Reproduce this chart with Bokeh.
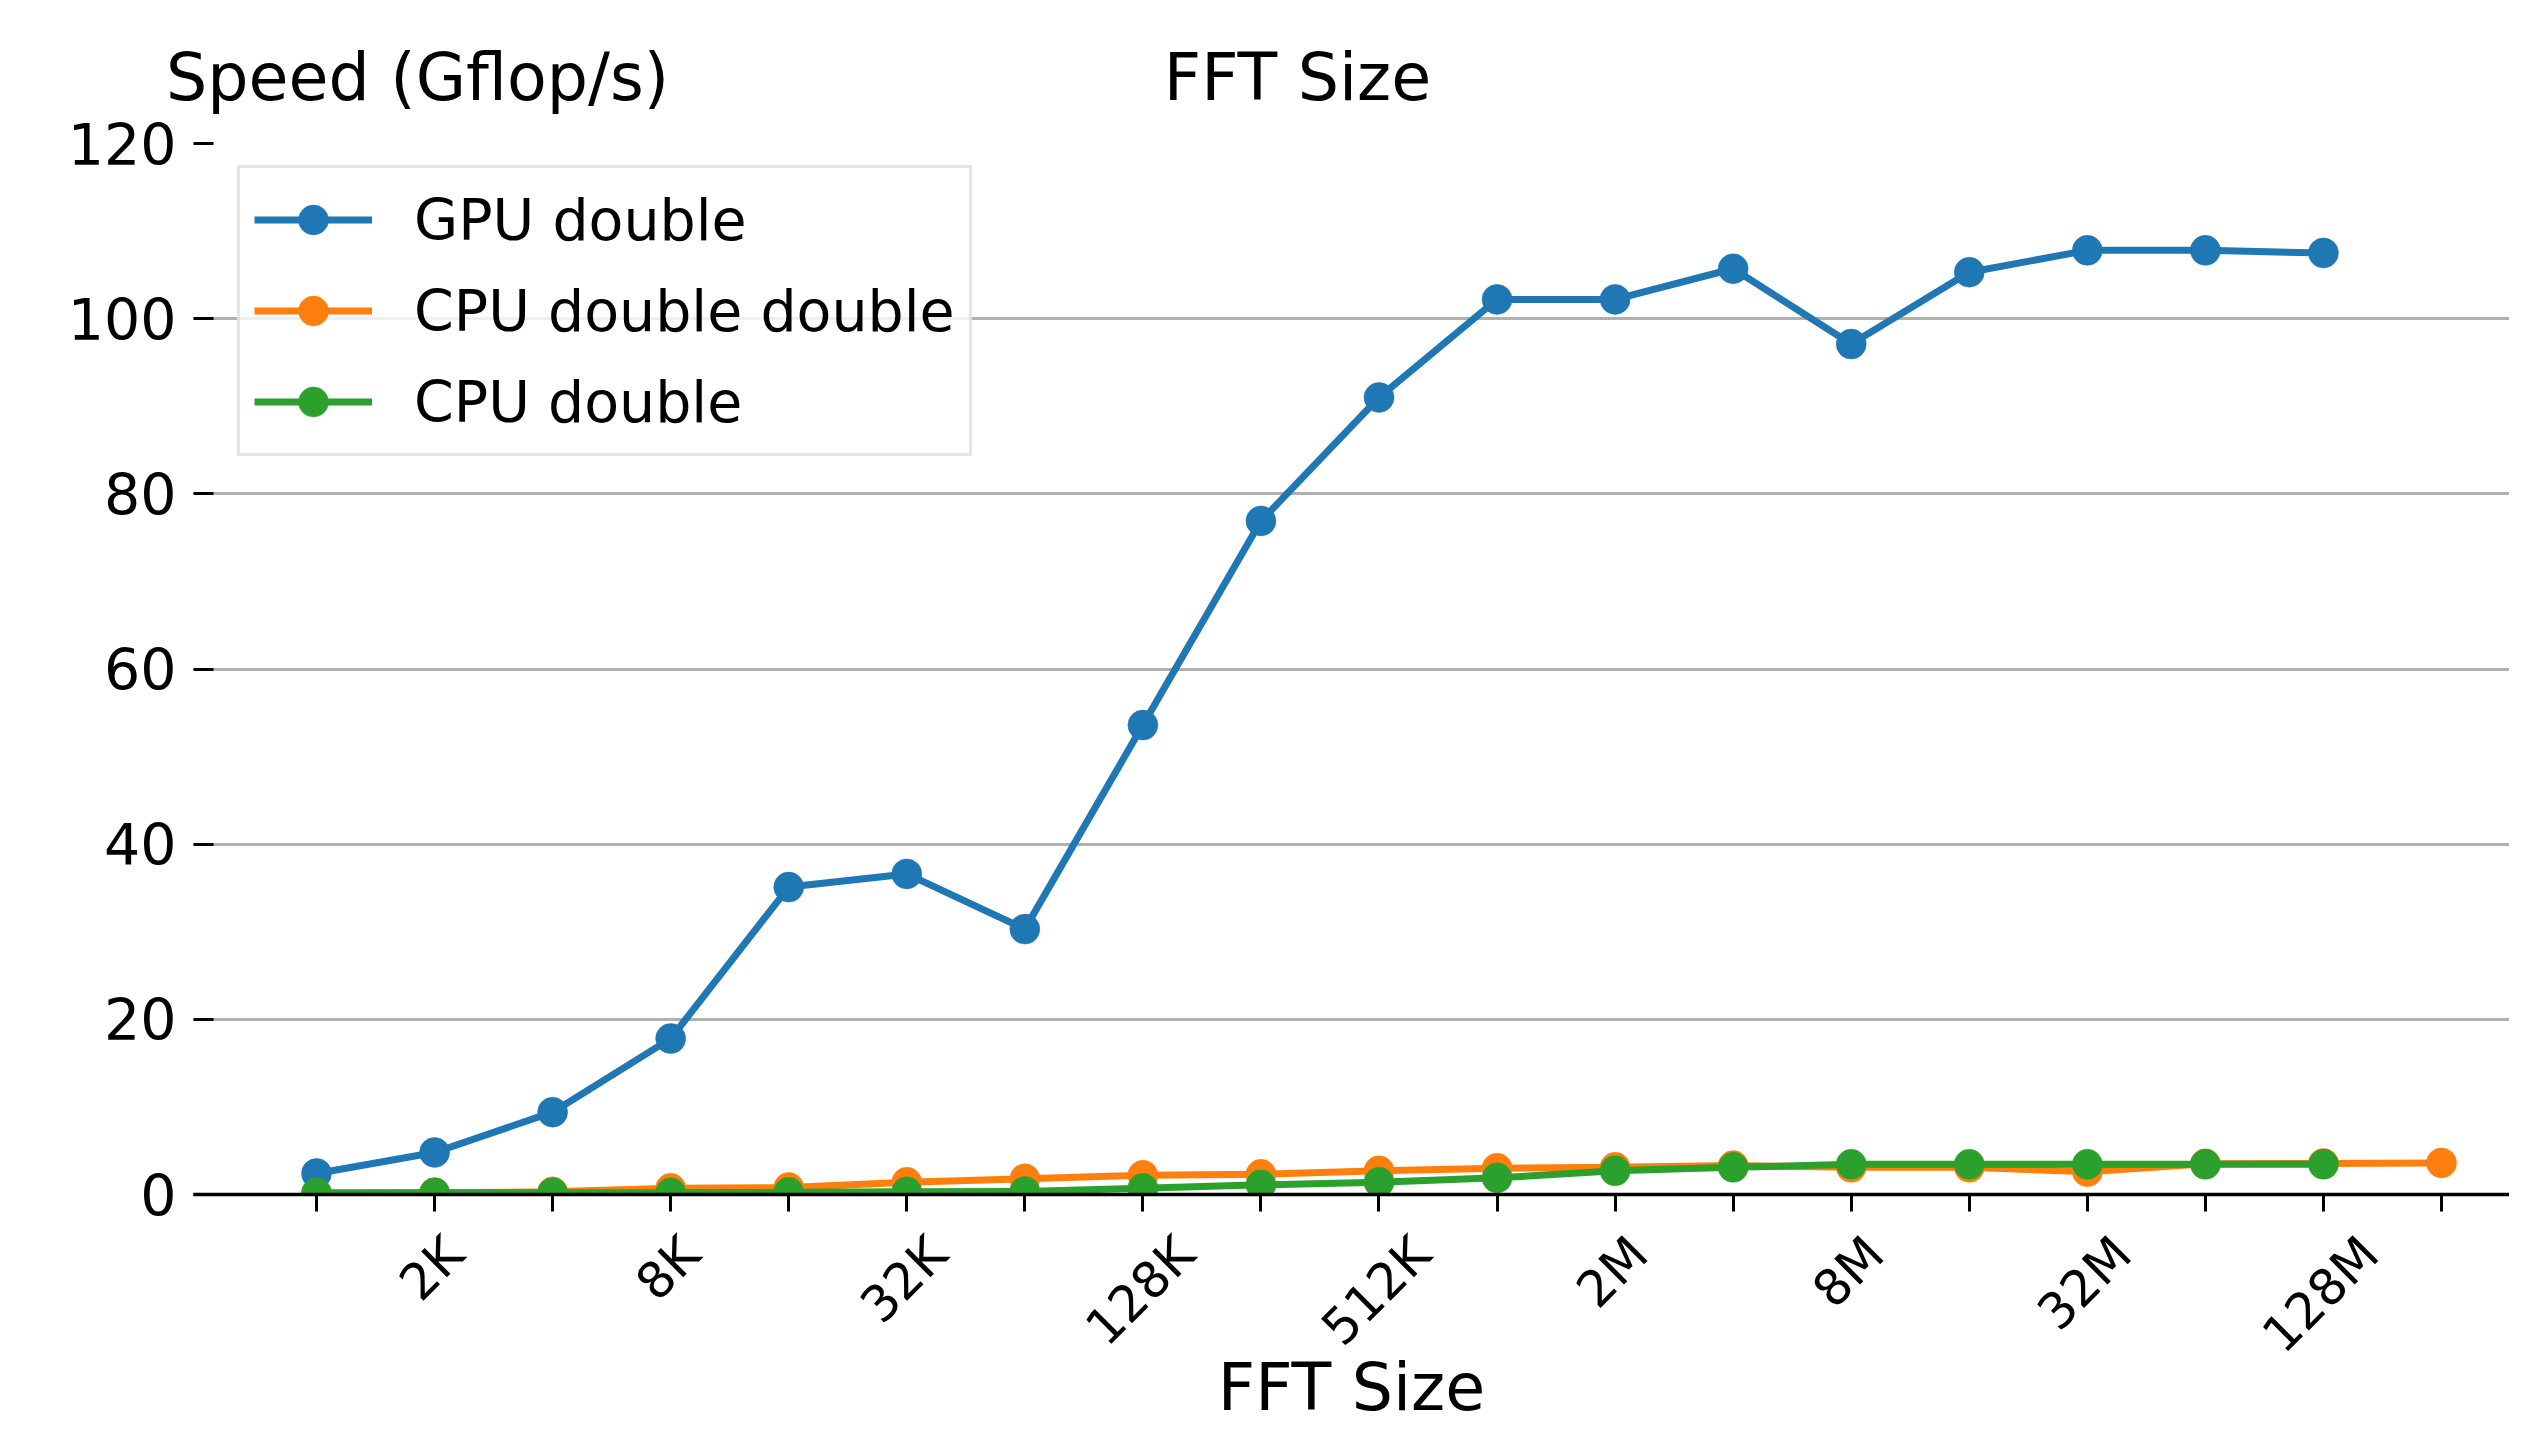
import math
from bokeh.plotting import figure
from bokeh.models import FixedTicker, Range1d, LinearAxis
from bokeh.embed import file_html
from bokeh.resources import INLINE

# ---------------- data ----------------
# FFT sizes as powers of two (10 -> 1K ... 28 -> 256M)
fft_log2 = list(range(10, 29))
tick_labels = ["", "2K", "", "8K", "", "32K", "", "128K", "", "512K",
               "", "2M", "", "8M", "", "32M", "", "128M", ""]

gpu_x = list(range(10, 28))
gpu_double = [2.4, 4.8, 9.4, 17.8, 35.1, 36.6, 30.3, 53.6, 76.9, 91.0,
              102.2, 102.2, 105.7, 97.1, 105.3, 107.8, 107.8, 107.5]

cpu_dd_x = list(range(10, 29))
cpu_double_double = [0.1, 0.2, 0.3, 0.7, 0.8, 1.4, 1.8, 2.2, 2.3, 2.7,
                     3.0, 3.1, 3.3, 3.1, 3.1, 2.6, 3.5, 3.55, 3.6]

cpu_d_x = list(range(10, 28))
cpu_double = [0.2, 0.2, 0.2, 0.2, 0.25, 0.3, 0.35, 0.7, 1.1, 1.4,
              1.9, 2.7, 3.1, 3.45, 3.45, 3.45, 3.45, 3.45]

y_ticks = [0, 20, 40, 60, 80, 100, 120]

series_names = ["GPU double", "CPU double double", "CPU double"]
colors = ["#1f77b4", "#ff7f0e", "#2ca02c"]

y_title = "Speed (Gflop/s)"
x_title = "FFT Size"

FONT = "DejaVu Sans"

# ---------------- layout (canvas pixels) ----------------
W, H = 2509, 1428
frame_left, frame_top, frame_bottom = 193, 143, 1197
frame_right = W
x_px_per_unit = (2441 - 316) / 18.0
x_at_10 = 316.0


def px2x(px):
    return round(10 + (px - x_at_10) / x_px_per_unit, 5)


p = figure(width=W, height=H, output_backend="svg", toolbar_location=None,
           x_range=Range1d(px2x(frame_left), px2x(frame_right)),
           y_range=Range1d(0, 120),
           min_border_left=frame_left, min_border_top=frame_top,
           min_border_bottom=H - frame_bottom, min_border_right=0)
p.outline_line_color = None
p.background_fill_color = "white"
p.border_fill_color = "white"

# grid
p.xgrid.visible = False
p.ygrid.ticker = FixedTicker(ticks=y_ticks)
p.ygrid.grid_line_color = "#b0b0b0"
p.ygrid.grid_line_width = 3

# y axis
p.yaxis.ticker = FixedTicker(ticks=y_ticks)
p.yaxis.axis_line_color = None
p.yaxis.major_tick_in = 20
p.yaxis.major_tick_out = 0
p.yaxis.major_tick_line_width = 3
p.yaxis.major_tick_line_color = "black"
p.yaxis.minor_tick_line_color = None
p.yaxis.major_label_standoff = 17
p.yaxis.major_label_text_font_size = "57px"
p.yaxis.major_label_text_font = FONT
p.yaxis.major_label_text_color = "black"

# x axis: spine + tick marks
p.xaxis.ticker = FixedTicker(ticks=fft_log2)
p.xaxis.major_label_overrides = {t: "" for t in fft_log2}
p.xaxis.major_label_text_font_size = "1px"
p.xaxis.major_label_standoff = 0
p.xaxis.axis_line_width = 3.3
p.xaxis.axis_line_color = "black"
p.xaxis.major_tick_in = 0
p.xaxis.major_tick_out = 17
p.xaxis.major_tick_line_width = 3
p.xaxis.major_tick_line_color = "black"
p.xaxis.minor_tick_line_color = None


def text_axis(ticks, labels, side, standoff, size, orientation="horizontal"):
    ax = LinearAxis(ticker=FixedTicker(ticks=ticks),
                    major_label_overrides=dict(zip(ticks, labels)),
                    axis_line_color=None, major_tick_line_color=None,
                    minor_tick_line_color=None, major_tick_in=0, major_tick_out=0,
                    major_label_standoff=standoff,
                    major_label_orientation=orientation,
                    major_label_text_font=FONT, major_label_text_font_size=size,
                    major_label_text_color="black")
    p.add_layout(ax, side)
    return ax


# rotated x tick labels, centred on their ticks like the reference
CW = {"0": .636, "1": .636, "2": .636, "3": .636, "4": .636, "5": .636,
      "6": .636, "7": .636, "8": .636, "9": .636, "K": .656, "M": .863}
XFS = 50
lab_pos, lab_txt = [], []
for t, lab in zip(fft_log2, tick_labels):
    if not lab:
        continue
    w = (sum(CW[ch] for ch in lab) - 0.15) * XFS
    lab_pos.append(round(t + w * math.sqrt(0.5) / 2 / x_px_per_unit, 5))
    lab_txt.append(lab)
lab_axis = text_axis(lab_pos, lab_txt, "below", 34, f"{XFS}px", math.pi / 4)
lab_axis.axis_label = x_title
lab_axis.axis_label_text_font = FONT
lab_axis.axis_label_text_font_size = "65px"
lab_axis.axis_label_text_font_style = "normal"
lab_axis.axis_label_text_color = "black"
lab_axis.axis_label_standoff = -37
# centre the bottom title where the reference has it
title_cx = px2x(1377)
half = 8.75
lab_axis.bounds = (round(title_cx - half, 5), round(title_cx + half, 5))

# top texts (y title at upper left, and the upper "FFT Size")
text_axis([px2x(417), px2x(1297)], [y_title, x_title], "above", 29, "65px")

# ---------------- series ----------------
for xs, ys, name, c in [(gpu_x, gpu_double, series_names[0], colors[0]),
                        (cpu_dd_x, cpu_double_double, series_names[1], colors[1]),
                        (cpu_d_x, cpu_double, series_names[2], colors[2])]:
    p.line(xs, ys, line_color=c, line_width=7, line_join="round", legend_label=name)
    p.scatter(xs, ys, size=30, fill_color=c, line_color=c, line_width=0.5,
              legend_label=name)

# ---------------- legend ----------------
lg = p.legend[0]
lg.location = (237 - frame_left, frame_bottom - 459)
lg.margin = 0
lg.padding = 14
lg.spacing = 16
lg.glyph_width = 118
lg.glyph_height = 75
lg.label_standoff = 42
lg.label_text_font_size = "57px"
lg.label_text_font = FONT
lg.label_text_color = "black"
lg.border_line_color = "#cccccc"
lg.border_line_width = 3
lg.background_fill_color = "white"
lg.background_fill_alpha = 0.8

open("out.html", "w").write(file_html(p, INLINE))
